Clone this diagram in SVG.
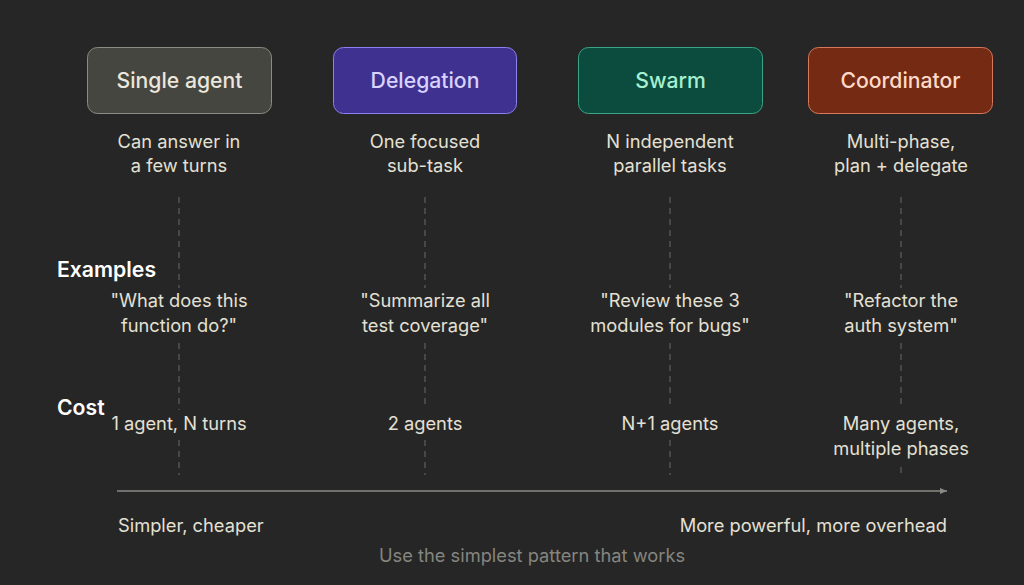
<svg xmlns="http://www.w3.org/2000/svg" width="1024" height="585" viewBox="0 0 1024 585">
<defs>
<style>
.bg{fill:#262626}
.t{font-family:Inter,"Noto Sans","Liberation Sans",sans-serif;text-anchor:middle}
.title{font-size:21.2px;font-weight:500}
.d{font-size:18.3px;fill:#e4e0d4}
.lbl{font-family:Inter,"Noto Sans","Liberation Sans",sans-serif;font-size:21.2px;font-weight:600;fill:#ffffff}
.dash{stroke:#5a5a56;stroke-width:1.3;stroke-dasharray:6 5;fill:none}
</style>
<marker id="arr" viewBox="0 0 10 10" refX="9" refY="5" markerWidth="8" markerHeight="8" markerUnits="userSpaceOnUse" orient="auto">
<path d="M0,1 L9,5 L0,9 Z" fill="#8a8a85"/>
</marker>
</defs>
<rect class="bg" x="0" y="0" width="1024" height="585"/>

<g id="connectors">
<path class="dash" d="M179,197 V288 M179,343 V410 M179,440 V475"/>
<path class="dash" d="M425,197 V288 M425,343 V407 M425,440 V475"/>
<path class="dash" d="M670,197 V288 M670,343 V407 M670,440 V475"/>
<path class="dash" d="M901,197 V288 M901,343 V408 M901,467 V475"/>
<line x1="117" y1="491" x2="947" y2="491" stroke="#8a8a85" stroke-width="1.5" marker-end="url(#arr)"/>
</g>

<g id="single-agent">
<rect x="87.5" y="47.5" width="184" height="66" rx="10" fill="#464641" stroke="#8c8c84" stroke-width="1"/>
<text class="t title" x="179.5" y="88" fill="#ebe7dc">Single agent</text>
<text class="t d" x="179" y="148">Can answer in</text>
<text class="t d" x="179" y="172">a few turns</text>
<text class="t d" x="179" y="307">"What does this</text>
<text class="t d" x="179" y="332">function do?"</text>
<text class="t d" x="179" y="430">1 agent, N turns</text>
</g>

<g id="delegation">
<rect x="333.5" y="47.5" width="183" height="66" rx="10" fill="#3f3190" stroke="#8d80f0" stroke-width="1"/>
<text class="t title" x="425" y="88" fill="#d9d2ff">Delegation</text>
<text class="t d" x="425" y="148">One focused</text>
<text class="t d" x="425" y="172">sub-task</text>
<text class="t d" x="425" y="307">"Summarize all</text>
<text class="t d" x="425" y="332">test coverage"</text>
<text class="t d" x="425" y="430">2 agents</text>
</g>

<g id="swarm">
<rect x="578.5" y="47.5" width="184" height="66" rx="10" fill="#0b4c3e" stroke="#3aa586" stroke-width="1"/>
<text class="t title" x="670.5" y="88" fill="#a6efcf">Swarm</text>
<text class="t d" x="670" y="148">N independent</text>
<text class="t d" x="670" y="172">parallel tasks</text>
<text class="t d" x="670" y="307">"Review these 3</text>
<text class="t d" x="670" y="332">modules for bugs"</text>
<text class="t d" x="670" y="430">N+1 agents</text>
</g>

<g id="coordinator">
<rect x="808.5" y="47.5" width="184" height="66" rx="10" fill="#742a13" stroke="#d9785a" stroke-width="1"/>
<text class="t title" x="900.5" y="88" fill="#ffd9c8">Coordinator</text>
<text class="t d" x="901" y="148">Multi-phase,</text>
<text class="t d" x="901" y="172">plan + delegate</text>
<text class="t d" x="901" y="307">"Refactor the</text>
<text class="t d" x="901" y="332">auth system"</text>
<text class="t d" x="901" y="430">Many agents,</text>
<text class="t d" x="901" y="455">multiple phases</text>
</g>

<g id="labels">
<text class="lbl" x="57" y="277">Examples</text>
<text class="lbl" x="57" y="415">Cost</text>
<text class="d" x="118" y="532" style="font-family:Inter,'Noto Sans','Liberation Sans',sans-serif">Simpler, cheaper</text>
<text class="d" x="947" y="532" text-anchor="end" style="font-family:Inter,'Noto Sans','Liberation Sans',sans-serif">More powerful, more overhead</text>
<text class="t" x="532" y="562" font-size="18.3" fill="#85857f">Use the simplest pattern that works</text>
</g>
</svg>
